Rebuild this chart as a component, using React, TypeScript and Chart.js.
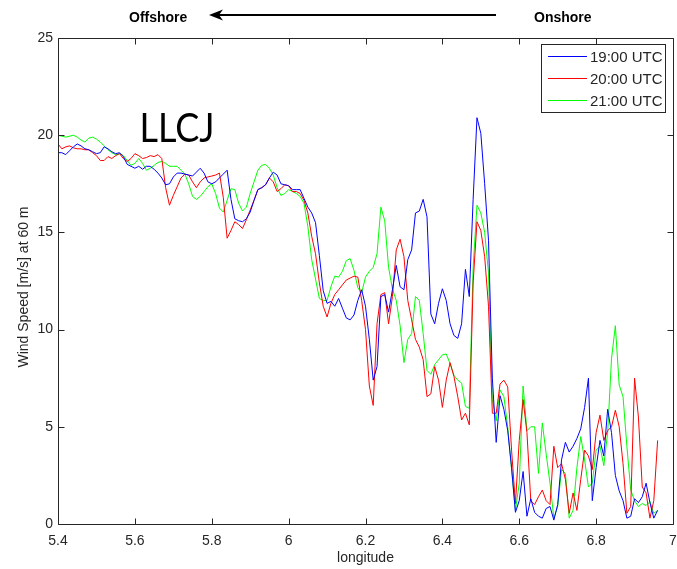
import React, { useEffect, useRef } from 'react';
import { Chart, registerables } from 'chart.js';

Chart.register(...registerables);

const longitude = [
  5.40, 5.41, 5.42, 5.43, 5.44, 5.45, 5.46, 5.47, 5.48, 5.49,
  5.50, 5.51, 5.52, 5.53, 5.54, 5.55, 5.56, 5.57, 5.58, 5.59,
  5.60, 5.61, 5.62, 5.63, 5.64, 5.65, 5.66, 5.67, 5.68, 5.69,
  5.70, 5.71, 5.72, 5.73, 5.74, 5.75, 5.76, 5.77, 5.78, 5.79,
  5.80, 5.81, 5.82, 5.83, 5.84, 5.85, 5.86, 5.87, 5.88, 5.89,
  5.90, 5.91, 5.92, 5.93, 5.94, 5.95, 5.96, 5.97, 5.98, 5.99,
  6.00, 6.01, 6.02, 6.03, 6.04, 6.05, 6.06, 6.07, 6.08, 6.09,
  6.10, 6.11, 6.12, 6.13, 6.14, 6.15, 6.16, 6.17, 6.18, 6.19,
  6.20, 6.21, 6.22, 6.23, 6.24, 6.25, 6.26, 6.27, 6.28, 6.29,
  6.30, 6.31, 6.32, 6.33, 6.34, 6.35, 6.36, 6.37, 6.38, 6.39,
  6.40, 6.41, 6.42, 6.43, 6.44, 6.45, 6.46, 6.47, 6.48, 6.49,
  6.50, 6.51, 6.52, 6.53, 6.54, 6.55, 6.56, 6.57, 6.58, 6.59,
  6.60, 6.61, 6.62, 6.63, 6.64, 6.65, 6.66, 6.67, 6.68, 6.69,
  6.70, 6.71, 6.72, 6.73, 6.74, 6.75, 6.76, 6.77, 6.78, 6.79,
  6.80, 6.81, 6.82, 6.83, 6.84, 6.85, 6.86, 6.87, 6.88, 6.89,
  6.90, 6.91, 6.92, 6.93, 6.94, 6.95, 6.96,
];

const utc19 = [
  19.1, 19.1, 19.0, 19.2, 19.4, 19.55, 19.45, 19.3, 19.25, 19.15,
  19.05, 19.1, 19.4, 19.3, 19.15, 19.05, 19.1, 18.9, 18.5, 18.4,
  18.3, 18.4, 18.25, 18.4, 18.4, 18.25, 18.05, 17.8, 17.45, 17.5,
  17.85, 18.05, 18.05, 18.0, 17.95, 17.9, 18.1, 18.3, 18.05, 17.6,
  17.5, 17.6, 17.8, 18.0, 18.2, 16.7, 15.7, 15.6, 15.55, 15.7,
  16.05, 16.65, 17.2, 17.3, 17.45, 17.8, 18.1, 17.95, 17.5, 17.45,
  17.4, 17.2, 17.2, 17.2, 16.75, 16.3, 16.0, 15.5, 13.8, 12.0,
  11.35, 11.45, 11.2, 11.6, 11.1, 10.6, 10.5, 10.75, 11.5, 12.05,
  11.2, 9.5, 7.4, 8.1, 11.7, 11.8, 10.9, 12.05, 13.3, 12.2,
  12.05, 13.6, 14.1, 16.0, 16.1, 16.7, 15.8, 10.8, 10.3, 11.35,
  12.1, 11.5, 10.3, 9.7, 9.55, 10.3, 13.1, 11.7, 16.7, 20.9,
  20.1, 17.5, 14.6, 7.5, 4.2, 6.6, 5.9, 4.8, 2.9, 0.6,
  1.2, 2.7, 0.4, 1.3, 0.6, 0.4, 0.3, 0.8, 0.9, 0.2,
  1.0, 3.3, 4.2, 3.7, 4.0, 4.4, 4.9, 6.0, 7.5, 1.2,
  2.9, 4.3, 3.5, 5.9, 4.7, 2.5, 1.7, 1.2, 0.3, 0.4,
  1.3, 1.1, 1.4, 2.1, 1.1, 0.3, 0.7,
];

const utc20 = [
  19.55, 19.3, 19.4, 19.45, 19.35, 19.3, 19.3, 19.25, 19.25, 19.1,
  18.95, 18.7, 18.7, 18.9, 18.8, 18.95, 19.05, 18.8, 18.65, 18.8,
  19.05, 18.95, 18.8, 18.85, 18.95, 18.9, 19.0, 18.8, 17.3, 16.4,
  16.9, 17.35, 17.8, 18.0, 17.95, 17.6, 17.3, 17.6, 17.8, 17.85,
  17.9, 17.95, 18.05, 16.8, 14.7, 15.1, 15.55, 15.4, 15.2, 15.65,
  16.15, 16.65, 17.2, 17.3, 17.45, 17.8, 17.6, 17.1, 17.25, 17.45,
  17.4, 17.1, 17.1, 17.0, 16.65, 16.0, 14.8, 13.9, 12.4, 11.2,
  10.65, 11.35, 11.8, 12.05, 12.3, 12.55, 12.65, 12.75, 12.7, 11.5,
  10.0, 7.1, 6.1, 10.3, 11.8, 11.9, 10.3, 11.7, 14.1, 14.65,
  13.75, 11.5, 10.5, 9.5, 9.1, 8.45, 6.55, 6.7, 8.1, 7.4,
  6.0, 7.4, 8.3, 7.6, 6.55, 5.35, 5.7, 5.1, 12.4, 15.55,
  15.1, 13.75, 11.2, 5.7, 5.7, 7.2, 7.4, 7.05, 3.8, 1.05,
  4.3, 6.4, 4.7, 1.2, 1.0, 1.4, 1.75, 1.2, 1.0, 4.0,
  2.9, 3.1, 2.3, 0.55, 1.6, 0.7, 2.3, 3.8, 3.5, 2.8,
  4.7, 5.6, 4.3, 4.8, 5.0, 5.85, 5.0, 3.1, 0.55, 0.9,
  7.5, 5.5, 1.9, 1.6, 0.3, 1.2, 4.3,
];

const utc21 = [
  20.0, 19.95, 19.9, 19.95, 20.0, 19.9, 19.75, 19.65, 19.85, 19.9,
  19.8, 19.65, 19.45, 19.25, 19.1, 19.0, 19.05, 18.95, 18.7, 18.45,
  18.55, 18.8, 18.55, 18.2, 18.3, 18.45, 18.6, 18.65, 18.55, 18.4,
  18.4, 18.4, 18.2, 18.0, 17.5, 16.85, 16.7, 16.85, 17.1, 17.35,
  17.5, 17.0, 16.25, 16.05, 16.65, 17.25, 17.2, 16.5, 16.1, 16.3,
  17.0, 17.6, 18.2, 18.45, 18.5, 18.3, 17.95, 17.3, 16.9, 17.0,
  17.2, 17.1, 17.0, 16.85, 16.5, 15.3, 13.6, 12.6, 11.6, 11.5,
  11.5, 12.2, 12.75, 12.7, 13.0, 13.55, 13.65, 13.05, 12.15, 11.9,
  12.7, 13.0, 13.2, 13.9, 16.3, 15.6, 13.2, 12.1, 11.5, 10.2,
  8.3, 9.5, 9.8, 11.7, 11.5, 9.8, 7.9, 7.7, 8.2, 8.45,
  8.7, 8.75, 8.25, 7.65, 7.4, 7.25, 6.05, 5.95, 13.2, 16.4,
  16.0, 15.0, 12.9, 6.4, 5.3, 6.9, 6.55, 5.0, 2.8, 0.7,
  2.1, 7.1, 4.8, 5.0, 5.0, 2.6, 5.2, 3.6, 2.1, 0.3,
  0.9, 2.8, 2.6, 0.3, 0.7, 2.9, 4.5, 3.3, 1.9, 2.1,
  3.8, 4.0, 3.0, 4.7, 8.5, 10.2, 7.15, 6.55, 4.0, 1.75,
  1.2, 0.9, 1.05, 0.95, 1.15, 0.55, 0.7,
];

const seriesLabels = ['19:00 UTC', '20:00 UTC', '21:00 UTC'];
const seriesColors = ['#0000ff', '#ff0000', '#00ff00'];
const xTicks = [5.4, 5.6, 5.8, 6, 6.2, 6.4, 6.6, 6.8, 7];
const yTicks = [0, 5, 10, 15, 20, 25];

const FONT = '"Liberation Sans", Arial, sans-serif';
const AXIS = '#262626';

const decorPlugin = {
  id: 'decor',
  afterDraw(chart: any) {
    const { ctx, chartArea: a, scales } = chart;
    const L = Math.round(a.left) + 0.5;
    const R = Math.round(a.right) + 0.5;
    const T = Math.round(a.top) + 0.5;
    const B = Math.round(a.bottom) + 0.5;
    ctx.save();
    ctx.strokeStyle = AXIS;
    ctx.lineWidth = 1;
    ctx.beginPath();
    ctx.rect(L, T, R - L, B - T);
    xTicks.forEach((v) => {
      const px = Math.round(scales.x.getPixelForValue(v)) + 0.5;
      ctx.moveTo(px, B); ctx.lineTo(px, B - 6);
      ctx.moveTo(px, T); ctx.lineTo(px, T + 6);
    });
    yTicks.forEach((v) => {
      const py = Math.round(scales.y.getPixelForValue(v)) + 0.5;
      ctx.moveTo(L, py); ctx.lineTo(L + 6, py);
      ctx.moveTo(R, py); ctx.lineTo(R - 6, py);
    });
    ctx.stroke();

    ctx.fillStyle = AXIS;
    ctx.font = `14px ${FONT}`;
    ctx.textAlign = 'center';
    ctx.textBaseline = 'middle';
    ctx.fillText('longitude', (a.left + a.right) / 2, 558);
    ctx.save();
    ctx.translate(24, 287);
    ctx.rotate(-Math.PI / 2);
    ctx.fillText('Wind Speed [m/s] at 60 m', 0, 0);
    ctx.restore();

    ctx.fillStyle = '#000';
    ctx.font = `bold 14px ${FONT}`;
    ctx.textAlign = 'left';
    ctx.fillText('Offshore', 129, 18);
    ctx.fillText('Onshore', 534, 18);
    ctx.strokeStyle = '#000';
    ctx.lineWidth = 2;
    ctx.beginPath();
    ctx.moveTo(496, 15);
    ctx.lineTo(216, 15);
    ctx.stroke();
    ctx.beginPath();
    ctx.moveTo(209, 15);
    ctx.lineTo(223, 9.5);
    ctx.lineTo(219, 15);
    ctx.lineTo(223, 20.5);
    ctx.closePath();
    ctx.fill();

    ctx.save();
    ctx.font = `40px Lato, "Open Sans", sans-serif`;
    ctx.textAlign = 'center';
    ctx.textBaseline = 'alphabetic';
    ctx.translate(177, 142);
    ctx.scale(0.9, 1);
    ctx.fillText('LLCJ', 0, 0);
    ctx.restore();

    ctx.fillStyle = '#fff';
    ctx.fillRect(541.5, 44.5, 124, 68);
    ctx.strokeStyle = AXIS;
    ctx.lineWidth = 1;
    ctx.strokeRect(541.5, 44.5, 124, 68);
    ctx.font = `15px ${FONT}`;
    ctx.textAlign = 'left';
    ctx.textBaseline = 'middle';
    const rows = [56.5, 78.5, 100.5];
    chart.data.datasets.forEach((ds: any, i: number) => {
      ctx.strokeStyle = ds.borderColor;
      ctx.beginPath();
      ctx.moveTo(548, rows[i]);
      ctx.lineTo(587, rows[i]);
      ctx.stroke();
      ctx.fillStyle = AXIS;
      ctx.fillText(ds.label, 590, rows[i] + 1);
    });
    ctx.restore();
  },
};

export default function App() {
  const ref = useRef<HTMLCanvasElement | null>(null);

  useEffect(() => {
    if (!ref.current) return;
    const series = [utc19, utc20, utc21];
    const chart = new Chart(ref.current, {
      type: 'line',
      data: {
        datasets: series.map((vals, i) => ({
          label: seriesLabels[i],
          data: longitude.map((x, j) => ({ x, y: vals[j] })),
          borderColor: seriesColors[i],
          backgroundColor: seriesColors[i],
          borderWidth: 1,
          pointRadius: 0,
          tension: 0,
          fill: false,
        })),
      },
      options: {
        animation: false,
        responsive: false,
        devicePixelRatio: 1,
        layout: { padding: { top: 38, right: 4, left: 0, bottom: 0 } },
        plugins: {
          legend: { display: false },
          tooltip: { enabled: false },
          title: { display: false },
        },
        scales: {
          x: {
            type: 'linear',
            min: 5.4,
            max: 7,
            afterFit: (s: any) => {
              s.height = 45;
              s.paddingLeft = 0;
              s.paddingRight = 0;
            },
            afterBuildTicks: (s: any) => { s.ticks = xTicks.map((v) => ({ value: v })); },
            grid: { display: false, drawTicks: false },
            border: { display: false },
            ticks: {
              padding: 9,
              color: AXIS,
              font: { family: FONT, size: 14 },
              maxRotation: 0,
              autoSkip: false,
              callback: (v: any) => String(Math.round(Number(v) * 10) / 10),
            },
          },
          y: {
            type: 'linear',
            min: 0,
            max: 25,
            afterFit: (s: any) => {
              s.width = 58;
              s.paddingTop = 0;
              s.paddingBottom = 0;
            },
            afterBuildTicks: (s: any) => { s.ticks = yTicks.map((v) => ({ value: v })); },
            grid: { display: false, drawTicks: false },
            border: { display: false },
            ticks: {
              padding: 5,
              color: AXIS,
              font: { family: FONT, size: 14 },
              callback: (v: any) => String(v),
            },
          },
        },
      },
      plugins: [decorPlugin],
    });
    return () => chart.destroy();
  }, []);

  return (
    <div style={{ position: 'absolute', left: 0, top: 0, width: 677, height: 569, background: '#fff' }}>
      <canvas ref={ref} width={677} height={569} style={{ width: 677, height: 569 }} />
    </div>
  );
}
